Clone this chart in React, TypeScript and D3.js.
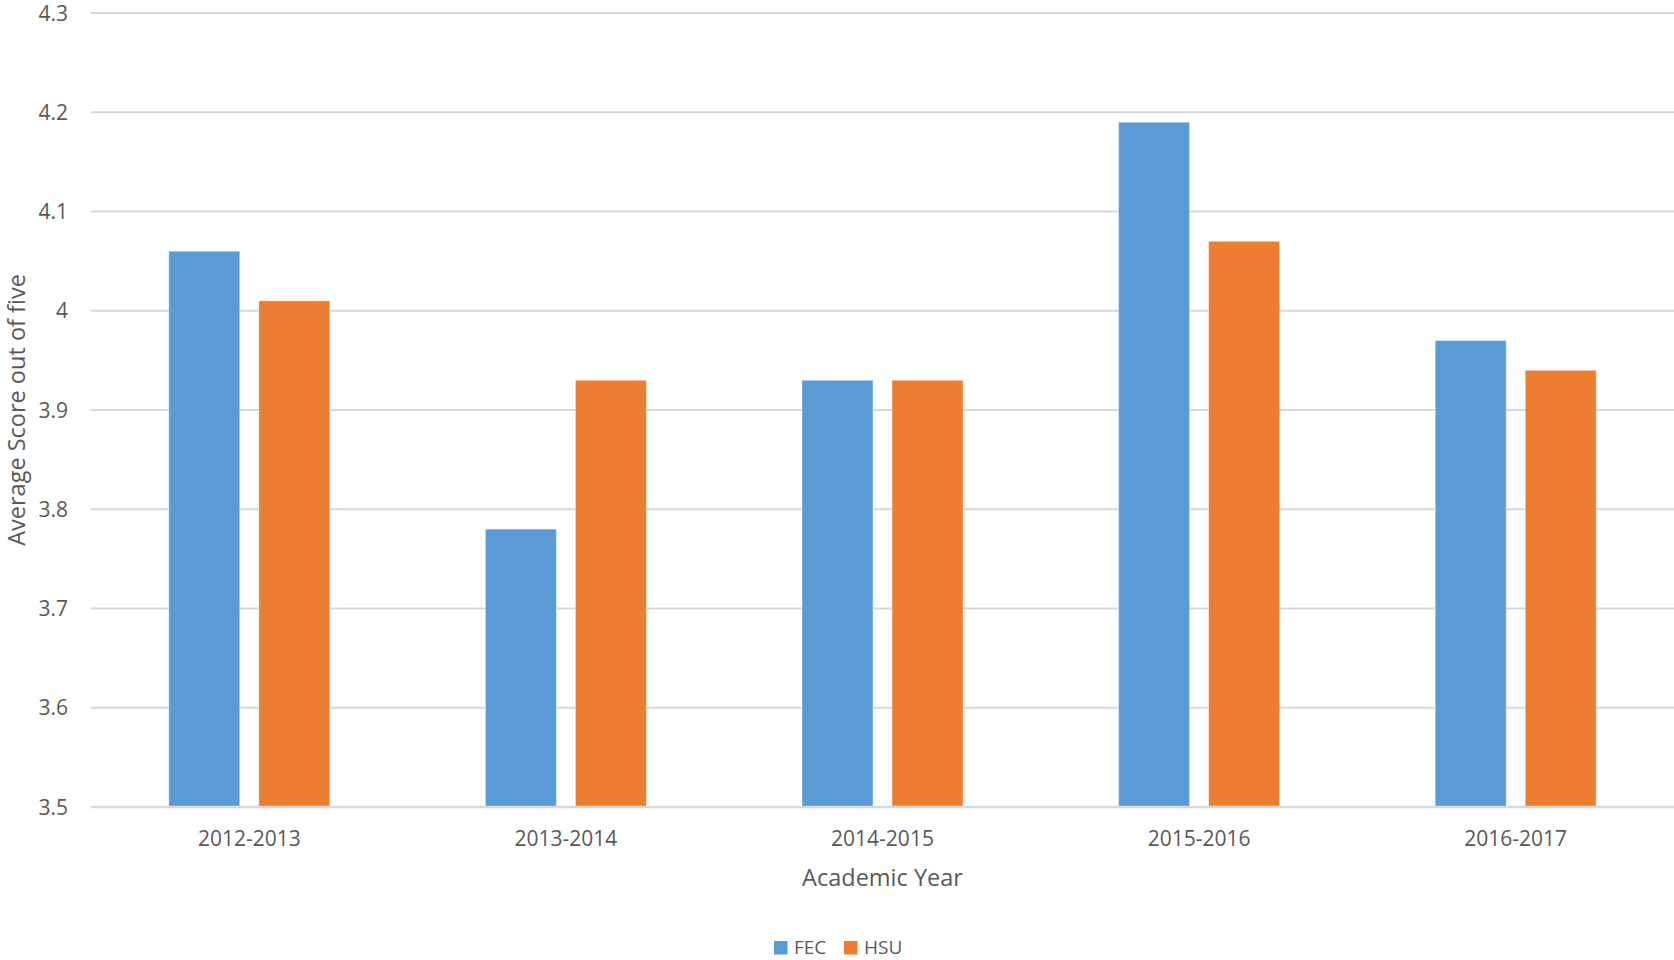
import React from "react";
import * as d3 from "d3";

const categories = ["2012-2013", "2013-2014", "2014-2015", "2015-2016", "2016-2017"];
const seriesNames = ["FEC", "HSU"];
const fecValues = [4.06, 3.78, 3.93, 4.19, 3.97];
const hsuValues = [4.01, 3.93, 3.93, 4.07, 3.94];
const yTicks = [3.5, 3.6, 3.7, 3.8, 3.9, 4.0, 4.1, 4.2, 4.3];
const colors = ["#5B9BD5", "#ED7D31"];

const W = 1674;
const H = 960;
const left = 91;
const right = 1674;
const top = 13;
const bottom = 807;
const font = "'Open Sans', sans-serif";
const textColor = "#595959";

export default function App() {
  const x0 = d3.scaleBand<string>().domain(categories).range([left, right]).paddingInner(0).paddingOuter(0);
  const x1 = d3
    .scaleBand<string>()
    .domain(seriesNames)
    .range([0, x0.bandwidth()])
    .paddingInner(0.211)
    .paddingOuter(0.864);
  const y = d3.scaleLinear().domain([3.5, 4.3]).range([bottom, top]);
  const data = [fecValues, hsuValues];
  const fmt = (v: number) => (Math.abs(v - 4) < 1e-9 ? "4" : d3.format(".1f")(v));

  return (
    <svg width={W} height={H} style={{ position: "absolute", left: 0, top: 0, background: "#fff" }}>
      <rect x={0} y={0} width={W} height={H} fill="#fff" />
      {yTicks.map((t) =>
        t === 3.5 ? null : (
          <line key={t} x1={left} x2={right} y1={y(t)} y2={y(t)} stroke="#d9d9d9" strokeWidth={2} />
        )
      )}
      {categories.map((c, i) =>
        seriesNames.map((s, j) => {
          const v = data[j][i];
          return (
            <rect
              key={c + s}
              x={(x0(c) as number) + (x1(s) as number)}
              y={y(v)}
              width={x1.bandwidth()}
              height={y(3.5) - y(v)}
              fill={colors[j]}
              stroke="rgba(255,255,255,0.45)"
              strokeWidth={1}
            />
          );
        })
      )}
      <line x1={left} x2={right} y1={bottom} y2={bottom} stroke="#d9d9d9" strokeWidth={2.5} />
      {yTicks.map((t) => (
        <text
          key={"yt" + t}
          x={68}
          y={y(t)}
          dy="0.36em"
          textAnchor="end"
          fontFamily={font}
          fontSize={21}
          fill={textColor}
        >
          {fmt(t)}
        </text>
      ))}
      {categories.map((c) => (
        <text
          key={"xt" + c}
          x={(x0(c) as number) + x0.bandwidth() / 2}
          y={846}
          textAnchor="middle"
          fontFamily={font}
          fontSize={21}
          fill={textColor}
        >
          {c}
        </text>
      ))}
      <text
        x={(left + right) / 2}
        y={886}
        textAnchor="middle"
        fontFamily={font}
        fontSize={23.5}
        fill={textColor}
      >
        Academic Year
      </text>
      <text
        transform={`translate(25, ${(top + bottom) / 2}) rotate(-90)`}
        textAnchor="middle"
        fontFamily={font}
        fontSize={23.5}
        fill={textColor}
      >
        Average Score out of five
      </text>
      <g>
        <rect x={774} y={941} width={13.5} height={13.5} fill={colors[0]} />
        <text x={794} y={954} fontFamily={font} fontSize={19} fill={textColor}>
          {seriesNames[0]}
        </text>
        <rect x={844} y={941} width={13.5} height={13.5} fill={colors[1]} />
        <text x={864} y={954} fontFamily={font} fontSize={19} fill={textColor}>
          {seriesNames[1]}
        </text>
      </g>
    </svg>
  );
}
